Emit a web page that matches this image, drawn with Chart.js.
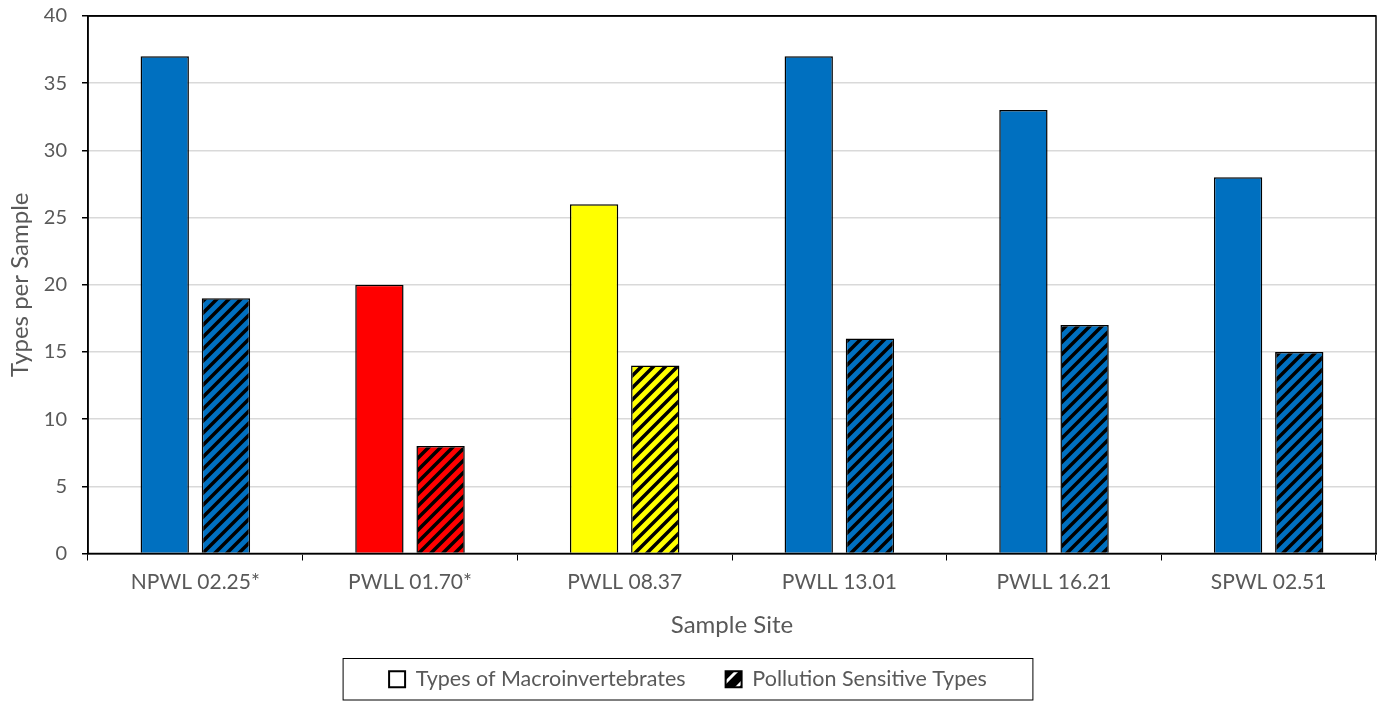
<!DOCTYPE html>
<html>
<head>
<meta charset="utf-8">
<script src="https://cdn.jsdelivr.net/npm/chart.js@4.4.1/dist/chart.umd.min.js"></script>
<style>
  html, body { margin: 0; padding: 0; background: #fff; }
  #wrap { width: 1380px; height: 702px; }
</style>
</head>
<body>
<div id="wrap"><canvas id="chart" width="1380" height="702"></canvas></div>
<script>
const sites = ["NPWL 02.25*", "PWLL 01.70*", "PWLL 08.37", "PWLL 13.01", "PWLL 16.21", "SPWL 02.51"];
const totalTypes = [37, 20, 26, 37, 33, 28];
const sensitiveTypes = [19, 8, 14, 16, 17, 15];
const siteColors = ["#0070C0", "#FF0000", "#FFFF00", "#0070C0", "#0070C0", "#0070C0"];
const yTicks = [0, 5, 10, 15, 20, 25, 30, 35, 40];

const grey = "#595959";
const font = "Lato, 'Open Sans', sans-serif";

// diagonal hatch, stripes going up to the right
function hatch(color, stripe, size, width) {
    const c = document.createElement("canvas");
    c.width = size; c.height = size;
    const g = c.getContext("2d");
    g.fillStyle = color;
    g.fillRect(0, 0, size, size);
    g.strokeStyle = stripe;
    g.lineWidth = width;
    g.beginPath();
    g.moveTo(-size / 2, size / 2); g.lineTo(size / 2, -size / 2);
    g.moveTo(0, size); g.lineTo(size, 0);
    g.moveTo(size / 2, size * 1.5); g.lineTo(size * 1.5, size / 2);
    g.stroke();
    return g.createPattern(c, "repeat");
}

const ctx = document.getElementById("chart").getContext("2d");
const hatchFills = siteColors.map(c => hatch(c, "#000", 12, 3.5));
const legendHatch = hatch("#000", "#fff", 16, 3);

// frame round the plot and box round the legend
const framePlugin = {
    id: "frame",
    afterDraw(chart) {
        const a = chart.chartArea;
        const g = chart.ctx;
        g.save();
        g.strokeStyle = "#000";
        g.lineWidth = 1.5;
        g.strokeRect(a.left, a.top, a.right - a.left, a.bottom - a.top);
        const boxes = chart.legend.legendHitBoxes;
        if (boxes && boxes.length) {
            const l = Math.min(...boxes.map(b => b.left));
            const r = Math.max(...boxes.map(b => b.left + b.width));
            const t = Math.min(...boxes.map(b => b.top));
            const btm = Math.max(...boxes.map(b => b.top + b.height));
            g.lineWidth = 1;
            g.strokeRect(l - 46, t - 10, r - l + 92, btm - t + 20);
        }
        g.restore();
    }
};

new Chart(ctx, {
    type: "bar",
    data: {
        labels: sites,
        datasets: [
            {
                label: "Types of Macroinvertebrates",
                data: totalTypes,
                backgroundColor: siteColors,
                borderColor: "#000",
                borderWidth: 1.5
            },
            {
                label: "Pollution Sensitive Types",
                data: sensitiveTypes,
                backgroundColor: hatchFills,
                borderColor: "#000",
                borderWidth: 1.5
            }
        ]
    },
    options: {
        responsive: false,
        animation: false,
        layout: { padding: { left: 0, right: 4, top: 16, bottom: 2 } },
        datasets: { bar: { categoryPercentage: 0.57, barPercentage: 0.79 } },
        scales: {
            x: {
                grid: { drawOnChartArea: false, tickLength: 7, tickColor: "#000" },
                border: { color: "#000", width: 1.5 },
                ticks: { color: grey, font: { family: font, size: 21 }, padding: 9 },
                title: { display: true, text: "Sample Site", color: grey, font: { family: font, size: 24 }, padding: { top: 0, bottom: -11 } },
                afterFit(s) { s.height = 75; }
            },
            y: {
                min: 0,
                max: 40,
                afterBuildTicks(s) { s.ticks = yTicks.map(v => ({ value: v })); },
                grid: {
                    color: c => c.tick && c.tick.value === 40 ? "#000" : "#D9D9D9",
                    lineWidth: 1.5,
                    tickLength: 6,
                    tickColor: "#000"
                },
                border: { color: "#000", width: 1.5 },
                ticks: { color: grey, font: { family: font, size: 20 }, padding: 15 },
                title: { display: true, text: "Types per Sample", color: grey, font: { family: font, size: 24 }, padding: { top: 6, bottom: 0 } },
                afterFit(s) {
                    s.width = 88;
                    s.paddingTop = 0;
                    s.paddingBottom = 0;
                }
            }
        },
        plugins: {
            legend: {
                position: "bottom",
                labels: {
                    color: grey,
                    font: { family: font, size: 21.5 },
                    boxWidth: 16,
                    boxHeight: 16,
                    padding: 40,
                    generateLabels() {
                        return [
                            { text: "Types of Macroinvertebrates", fillStyle: "#fff", strokeStyle: "#000", lineWidth: 2, datasetIndex: 0, fontColor: grey },
                            { text: "Pollution Sensitive Types", fillStyle: legendHatch, strokeStyle: "#000", lineWidth: 2, datasetIndex: 1, fontColor: grey }
                        ];
                    }
                },
                onClick: null
            },
            tooltip: { enabled: false }
        }
    },
    plugins: [framePlugin]
});
</script>
</body>
</html>
